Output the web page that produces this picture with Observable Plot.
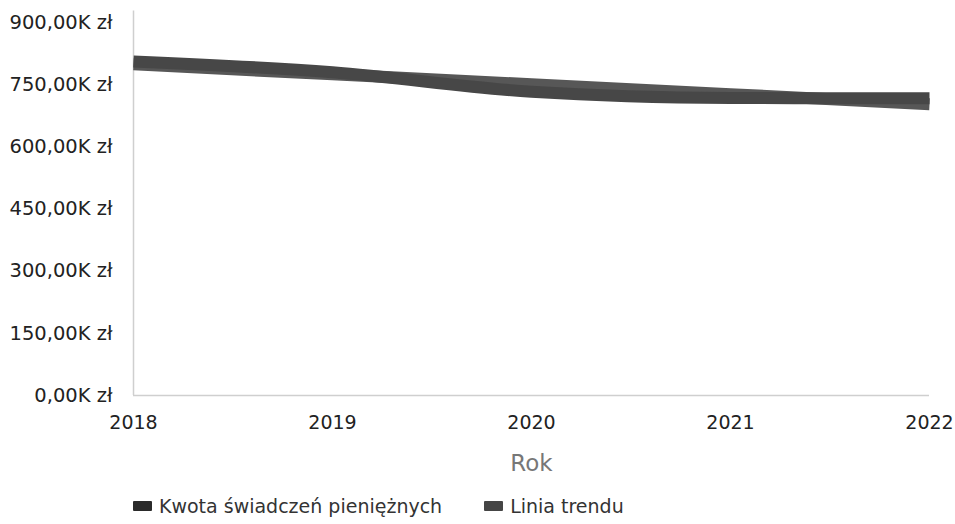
<!DOCTYPE html>
<html><head><meta charset="utf-8">
<script src="https://cdn.jsdelivr.net/npm/d3@7"></script>
<script src="https://cdn.jsdelivr.net/npm/@observablehq/plot@0.6"></script>
<style>
body{margin:0;background:#fff;font-family:"DejaVu Sans",sans-serif;width:955px;height:524px;position:relative;overflow:hidden;}
#legend{position:absolute;top:495px;left:133px;display:flex;align-items:center;font-size:19px;color:#333;}
#legend .it{display:flex;align-items:center;margin-right:42px;}
#legend .sw{display:inline-block;width:19px;height:10px;margin-right:7px;border-radius:1px;}
</style></head><body><div id="chart"></div><div id="legend"></div>
<script>
// values in thousands of zł
const years = [2018, 2019, 2020, 2021, 2022];
const kwota = [806, 780, 733, 718, 717];
const trend = [799, 775, 751, 727, 703];
const yTicks = [0, 150, 300, 450, 600, 750, 900];
const seriesNames = ["Kwota świadczeń pieniężnych", "Linia trendu"];
const seriesColors = ["#474747", "#575757"];
const legendColors = ["#2a2a2a", "#454545"];

const kwotaData = years.map((y, i) => ({year: y, value: kwota[i]}));
const trendData = years.map((y, i) => ({year: y, value: trend[i]}));

const fmt = v => d3.format(",.2f")(v).replace(/,/g, " ").replace(".", ",") + "K zł";

const chart = Plot.plot({
  width: 955,
  height: 480,
  marginLeft: 133,
  marginRight: 26,
  marginTop: 22,
  marginBottom: 85,
  style: {fontFamily: "DejaVu Sans, sans-serif", color: "#222", background: "#fff"},
  x: {domain: [2018, 2022]},
  y: {domain: [0, 900]},
  marks: [
    Plot.ruleY([0], {stroke: "#cfcfcf", strokeWidth: 1.5}),
    Plot.ruleX([2018], {y1: 0, y2: 928, stroke: "#cfcfcf", strokeWidth: 1.5}),
    Plot.line(trendData, {x: "year", y: "value", stroke: seriesColors[1], strokeWidth: 12, strokeLinecap: "butt"}),
    Plot.line(kwotaData, {x: "year", y: "value", stroke: seriesColors[0], strokeWidth: 12, curve: "monotone-x", strokeLinecap: "butt"}),
    Plot.axisY({ticks: yTicks, tickFormat: fmt, tickSize: 0, tickPadding: 21, fontSize: 19.5, label: null}),
    Plot.axisX({ticks: years, tickFormat: d => String(d), tickSize: 0, tickPadding: 20, fontSize: 19, label: null}),
    Plot.text(["Rok"], {frameAnchor: "bottom", lineAnchor: "middle", dy: 68, fontSize: 23, fill: "#777"})
  ]
});
document.getElementById("chart").appendChild(chart);

const leg = document.getElementById("legend");
seriesNames.forEach((n, i) => {
  const it = document.createElement("span");
  it.className = "it";
  const sw = document.createElement("span");
  sw.className = "sw";
  sw.style.background = legendColors[i];
  it.appendChild(sw);
  it.appendChild(document.createTextNode(n));
  leg.appendChild(it);
});
</script>
</body></html>
